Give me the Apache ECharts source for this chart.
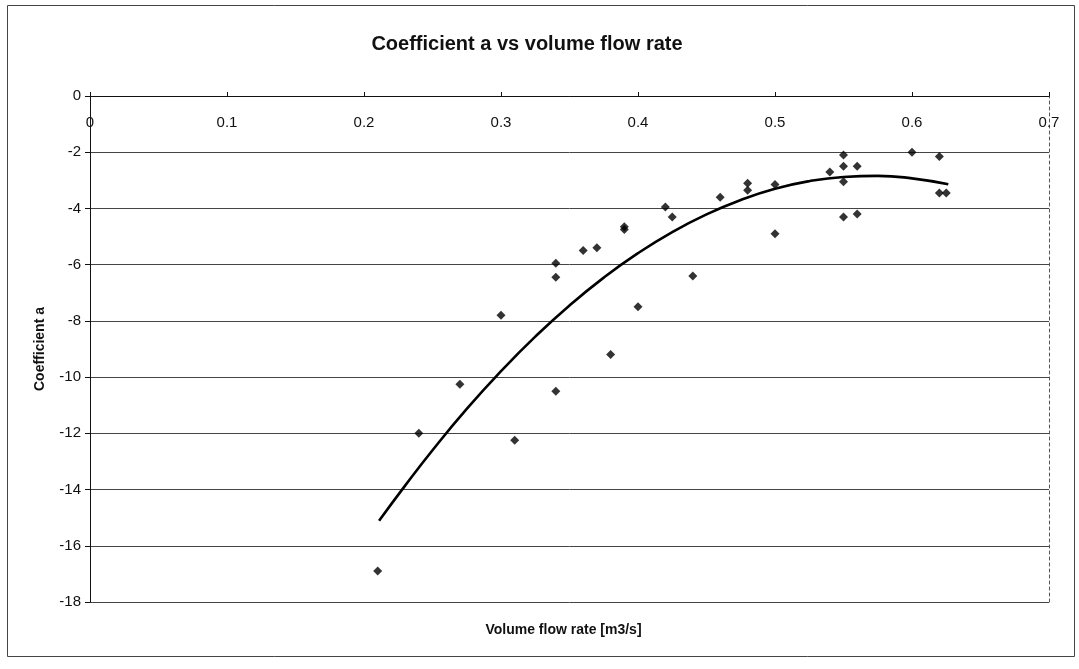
<!DOCTYPE html>
<html>
<head>
<meta charset="utf-8">
<script src="https://cdn.jsdelivr.net/npm/echarts@6/dist/echarts.min.js"></script>
<style>
html,body{margin:0;padding:0;background:#fff;}
#chart{width:1079px;height:669px;}
</style>
</head>
<body>
<div id="chart"></div>
<script>
// Measured data: volume flow rate [m3/s] and coefficient a
var flowRate = [0.21, 0.24, 0.27, 0.30, 0.31, 0.34, 0.34, 0.34, 0.36, 0.37,
                0.38, 0.39, 0.39, 0.40, 0.42, 0.425, 0.44, 0.46, 0.48, 0.48,
                0.50, 0.50, 0.54, 0.55, 0.55, 0.55, 0.55, 0.56, 0.56, 0.60,
                0.62, 0.62, 0.625];
var coeffA = [-16.9, -12.0, -10.25, -7.8, -12.25, -10.5, -5.95, -6.45, -5.5, -5.4,
              -9.2, -4.65, -4.75, -7.5, -3.95, -4.3, -6.4, -3.6, -3.1, -3.35,
              -3.15, -4.9, -2.7, -2.1, -2.5, -3.05, -4.3, -2.5, -4.2, -2.0,
              -2.15, -3.45, -3.45];
// Trend line (2nd order polynomial)
var trendX = [0.211, 0.23, 0.25, 0.275, 0.30, 0.325, 0.35, 0.375, 0.40, 0.425,
              0.45, 0.475, 0.50, 0.525, 0.55, 0.575, 0.60, 0.6265];
var trendY = [-15.11, -13.86, -12.60, -11.13, -9.79, -8.56, -7.45, -6.46, -5.59, -4.84,
              -4.21, -3.70, -3.30, -3.03, -2.88, -2.84, -2.93, -3.14];
var xTickLabels = ['0', '0.1', '0.2', '0.3', '0.4', '0.5', '0.6', '0.7'];
var yTickLabels = ['0', '-2', '-4', '-6', '-8', '-10', '-12', '-14', '-16', '-18'];
var titleText = 'Coefficient a vs volume flow rate';
var xName = 'Volume flow rate [m3/s]';
var yName = 'Coefficient a';

var font = "'Liberation Sans', Arial, sans-serif";
var scatterData = flowRate.map(function (x, i) { return [x, coeffA[i]]; });
var trendData = trendX.map(function (x, i) { return [x, trendY[i]]; });

var chart = echarts.init(document.getElementById('chart'), null, {renderer: 'canvas'});
chart.setOption({
  backgroundColor: '#ffffff',
  animation: false,
  title: {
    text: titleText,
    left: 522,
    textAlign: 'center',
    top: 29,
    textStyle: {fontFamily: font, fontSize: 20, fontWeight: 'bold', color: '#111'}
  },
  graphic: [{
    type: 'rect',
    shape: {x: 7.5, y: 5.5, width: 1067, height: 651},
    style: {fill: 'none', stroke: '#444', lineWidth: 1},
    silent: true
  }],
  grid: {left: 90, right: 30, top: 96, bottom: 67, containLabel: false},
  xAxis: {
    type: 'value',
    min: 0, max: 0.7, interval: 0.1,
    position: 'top',
    name: xName,
    nameLocation: 'middle',
    nameGap: -541,
    nameTextStyle: {fontFamily: font, fontSize: 14, fontWeight: 'bold', color: '#111', padding: [0, 12, 0, 0]},
    axisLine: {show: true, onZero: false, lineStyle: {color: '#111', width: 1}},
    axisTick: {show: true, length: 4, lineStyle: {color: '#111'}},
    axisLabel: {
      inside: true, margin: 19,
      fontFamily: font, fontSize: 15, color: '#111',
      formatter: function (v) { return xTickLabels[Math.round(v * 10)]; }
    },
    splitLine: {show: false}
  },
  yAxis: [{
    type: 'value',
    position: 'left',
    min: -18, max: 0, interval: 2,
    name: yName,
    nameLocation: 'middle',
    nameGap: 43,
    nameTextStyle: {fontFamily: font, fontSize: 14, fontWeight: 'bold', color: '#111'},
    axisLine: {show: true, onZero: false, lineStyle: {color: '#111', width: 1}},
    axisTick: {show: true, length: 5, lineStyle: {color: '#111'}},
    axisLabel: {
      margin: 9,
      fontFamily: font, fontSize: 15, color: '#111',
      formatter: function (v) { return yTickLabels[Math.round(-v / 2)]; }
    },
    splitLine: {show: true, lineStyle: {color: '#444', width: 1}}
  }, {
    type: 'value',
    min: -18, max: 0, interval: 2,
    position: 'right',
    axisLine: {show: true, onZero: false, lineStyle: {color: '#555', width: 1, type: [3, 3]}},
    axisTick: {show: false},
    axisLabel: {show: false},
    splitLine: {show: false}
  }],
  series: [{
    type: 'scatter',
    data: scatterData,
    symbol: 'diamond',
    symbolSize: 9,
    itemStyle: {color: '#000'},
    z: 3
  }, {
    type: 'line',
    data: trendData,
    smooth: true,
    showSymbol: false,
    symbol: 'none',
    lineStyle: {color: '#000', width: 2.6},
    z: 4
  }]
});
</script>
</body>
</html>
